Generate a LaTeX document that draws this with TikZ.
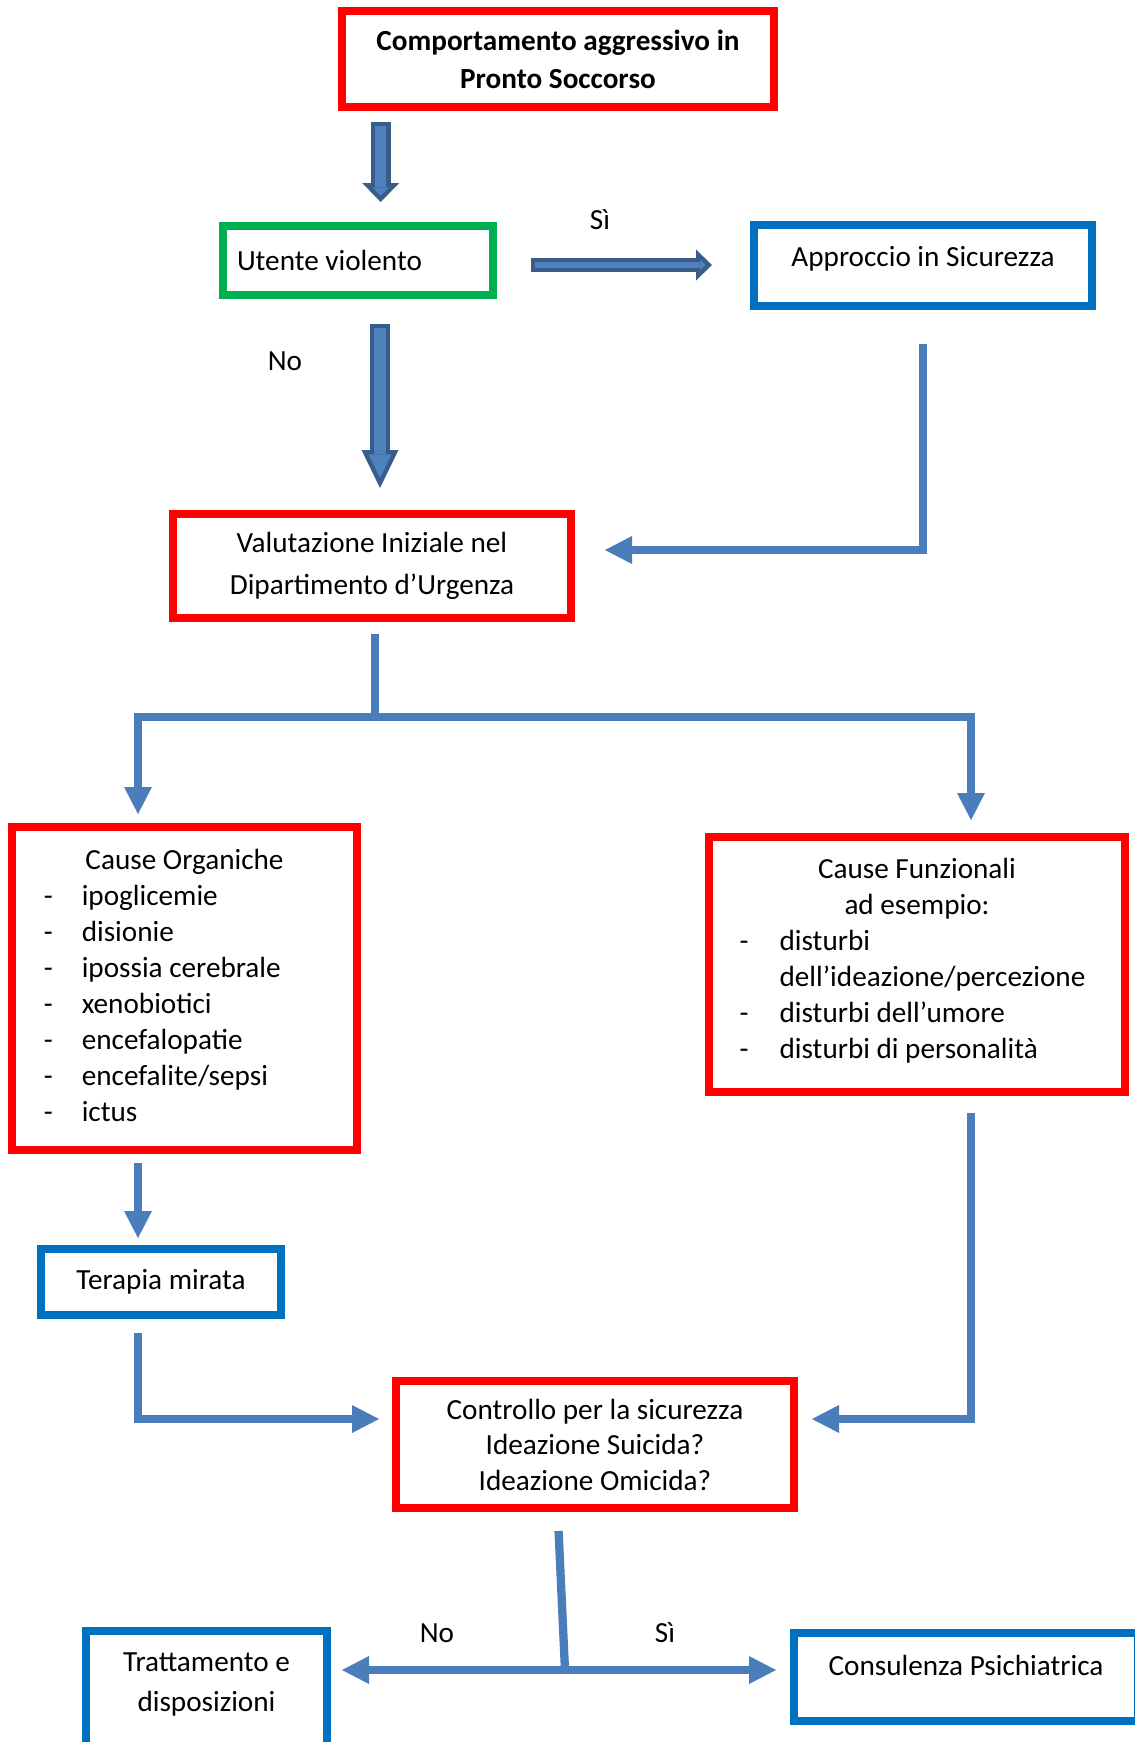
\documentclass[tikz,border=0pt]{standalone}
\usepackage{fontspec}
\setmainfont{Carlito}
\usetikzlibrary{positioning,arrows.meta,calc}

\definecolor{boxred}{HTML}{FF0000}
\definecolor{boxgreen}{HTML}{00B050}
\definecolor{boxblue}{HTML}{0070C0}
\definecolor{linkblue}{HTML}{4A7EBB}
\definecolor{blockfill}{HTML}{4F81BD}
\definecolor{blockedge}{HTML}{385D8A}

\newcommand{\dashitem}[2]{\makebox[#1][l]{-}#2}

\begin{document}
\begin{tikzpicture}[
font=\fontsize{14.6pt}{18pt}\selectfont,
box/.style={draw, line width=3.8pt, align=center, inner sep=0pt},
redbox/.style={box, draw=boxred},
greenbox/.style={box, draw=boxgreen},
bluebox/.style={box, draw=boxblue},
leftbox/.style={align=left, execute at begin node={\spaceskip=0pt\xspaceskip=0pt}},
link/.style={draw=linkblue, line width=4.15pt},
arr/.style={link, -{Triangle[length=13.5pt,width=14pt,line width=0pt]}},
blkout/.style n args={3}{draw=blockedge, line width=#1, -{Triangle[width=#2,length=#3,line width=0pt]}},
blkin/.style n args={3}{draw=blockfill, line width=#1, -{Triangle[width=#2,length=#3,line width=0pt]}},
lbl/.style={inner sep=0pt}
]
\useasboundingbox (0,0) rectangle (567.5pt,-871pt);

\node[redbox, font=\fontsize{14.6pt}{19pt}\selectfont\bfseries, minimum width=216.2pt, minimum height=48.2pt] (agg) at (279pt,-29.5pt) {Comportamento aggressivo in\\Pronto Soccorso};
\node[greenbox, leftbox, below=55.5pt of agg, xshift=-100pt, minimum height=34.7pt, text width=121pt, inner xsep=7.1pt] (ute) {Utente violento};
\node[bluebox, right=126.5pt of ute, yshift=-2.5pt, minimum width=169.2pt, minimum height=40.7pt, text depth=9pt] (app) {Approccio in Sicurezza};
\node[redbox, below=105.5pt of ute, xshift=7pt, minimum width=199.2pt, minimum height=52.2pt, font=\fontsize{14.6pt}{21pt}\selectfont] (val) {Valutazione Iniziale nel\\Dipartimento d’Urgenza};
\node[redbox, leftbox, below=100.5pt of val, xshift=-93.75pt, minimum height=161.7pt, text width=140.7pt, inner xsep=16pt, text depth=129.5pt] (org) {\makebox[\linewidth]{Cause Organiche}\\
  \dashitem{19pt}{ipoglicemie}\\
  \dashitem{19pt}{disionie}\\
  \dashitem{19pt}{ipossia cerebrale}\\
  \dashitem{19pt}{xenobiotici}\\
  \dashitem{19pt}{encefalopatie}\\
  \dashitem{19pt}{encefalite/sepsi}\\
  \dashitem{19pt}{ictus}};
\node[redbox, leftbox, right=172pt of org, yshift=12pt, minimum height=127.7pt, text width=177.4pt, inner xsep=15.4pt, text depth=96.5pt] (fun) {\makebox[\linewidth]{Cause Funzionali}\\
  \makebox[\linewidth]{ad esempio:}\\
  \dashitem{20pt}{disturbi}\\
  \hspace*{20pt}dell’ideazione/percezione\\
  \dashitem{20pt}{disturbi dell’umore}\\
  \dashitem{20pt}{disturbi di personalità}};
\node[bluebox, below=45.5pt of org, xshift=-11.75pt, minimum width=120.2pt, minimum height=33.2pt] (ter) {Terapia mirata};
\node[redbox, below=140.5pt of fun, xshift=-161pt, minimum width=199.2pt, minimum height=63.7pt, font=\fontsize{14.6pt}{17.75pt}\selectfont] (ctl) {Controllo per la sicurezza\\Ideazione Suicida?\\Ideazione Omicida?};
\node[bluebox, below=154pt of ter, xshift=22.75pt, minimum width=120.7pt, inner ysep=11pt, text depth=60pt, font=\fontsize{14.6pt}{20pt}\selectfont] (tra) {Trattamento e\\disposizioni};
\node[bluebox, below=58.5pt of ctl, xshift=185.5pt, minimum width=172.2pt, inner ysep=11pt, text depth=12pt] (con) {Consulenza Psichiatrica};

% block arrows
\draw[blkout={10pt}{18.5pt}{9.5pt}, shorten <=5.5pt, shorten >=10pt] ($(ute.north |- agg.south)+(11.35pt,0)$) -- ($(ute.north)+(11.35pt,0)$);
\draw[blkin={5.6pt}{8.06pt}{4.14pt}, shorten <=7.7pt, shorten >=13.16pt] ($(ute.north |- agg.south)+(11.35pt,0)$) -- ($(ute.north)+(11.35pt,0)$);
\draw[blkout={10pt}{18.5pt}{19pt}, shorten <=12.5pt, shorten >=11pt] ($(ute.south)+(11pt,0)$) -- ($(ute.south |- val.north)+(11pt,0)$);
\draw[blkin={5.6pt}{11.46pt}{11.77pt}, shorten <=14.7pt, shorten >=16.03pt] ($(ute.south)+(11pt,0)$) -- ($(ute.south |- val.north)+(11pt,0)$);
\draw[blkout={7pt}{15.5pt}{8pt}, shorten <=17pt, shorten >=19pt] ($(ute.east)+(0,-2.25pt)$) -- ($(ute.east -| app.west)+(0,-2.25pt)$);
\draw[blkin={2.6pt}{5.1pt}{2.64pt}, shorten <=19.2pt, shorten >=22.16pt] ($(ute.east)+(0,-2.25pt)$) -- ($(ute.east -| app.west)+(0,-2.25pt)$);

% thin connectors
\draw[arr, shorten <=17pt, shorten >=15pt] (app.south) |- ([yshift=8pt]val.east);
\coordinate (split) at ($(val.south)+(1.5pt,-47.5pt)$);
\coordinate (orgin) at ([xshift=-23.25pt]org.north);
\coordinate (funin) at ([xshift=27pt]fun.north);
\draw[link, shorten <=6pt] ([xshift=1.5pt]val.south) -- (split);
\draw[arr, shorten >=4.5pt] (split) -| (orgin);
\draw[arr, shorten >=6.5pt] (split) -| (funin);
\draw[arr, shorten <=4.5pt, shorten >=3.5pt] (org.south -| orgin) -- (ter.north -| orgin);
\draw[arr, shorten <=7pt, shorten >=6.5pt] (ter.south -| orgin) |- ([yshift=12.75pt]ctl.west);
\draw[arr, shorten <=8.5pt, shorten >=7pt] (fun.south -| funin) |- ([yshift=12.75pt]ctl.east);
\coordinate (choice) at ($(ctl.south)+(-15pt,-79pt)$);
\draw[link, shorten <=9.5pt] ([xshift=-18.65pt]ctl.south) -- (choice);
\draw[arr, shorten >=5.5pt] (choice) -- (choice -| tra.east);
\draw[arr, shorten >=7pt] (choice) -- (choice -| con.west);

% labels
\node[lbl] (si1) at ($(ute.east)!0.5!(app.west)+(-11.75pt,21.5pt)$) {Sì};
\node[lbl] (no1) at ($(ute.south)+(-36.5pt,-31pt)$) {No};
\node[lbl] (no2) at ($(choice)+(-64pt,18.5pt)$) {No};
\node[lbl] (si2) at ($(choice)+(50pt,18.5pt)$) {Sì};
\end{tikzpicture}
\end{document}
